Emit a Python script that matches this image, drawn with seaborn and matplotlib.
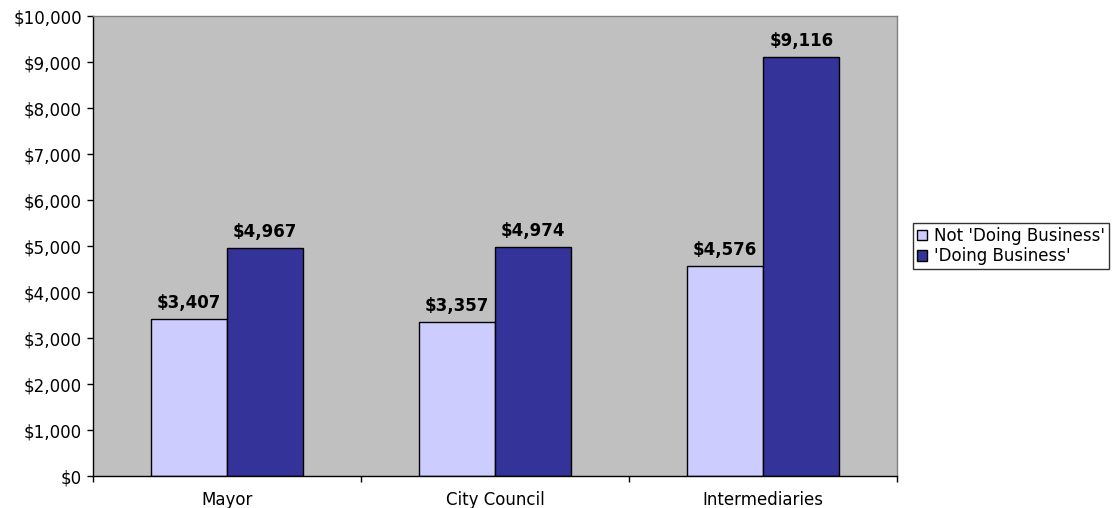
import matplotlib
matplotlib.use("Agg")
import matplotlib.pyplot as plt
import seaborn as sns
import pandas as pd
from matplotlib.patches import Patch
from matplotlib.ticker import FuncFormatter, FixedLocator

categories = ["Mayor", "City Council", "Intermediaries"]
series_names = ["Not 'Doing Business'", "'Doing Business'"]
not_doing_business = [3407, 3357, 4576]
doing_business = [4967, 4974, 9116]
colors = ["#CCCCFF", "#333399"]

df = pd.DataFrame({
    "category": categories * 2,
    "series": [series_names[0]] * 3 + [series_names[1]] * 3,
    "amount": not_doing_business + doing_business,
})

sns.set_style("white")
plt.rcParams["font.family"] = ["DejaVu Sans"]
FS = 12

fig = plt.figure(figsize=(11.13, 5.08), dpi=100)
W, H = 1113, 508
ax = fig.add_axes([93 / W, 1 - 476 / H, (897 - 93) / W, (476 - 16) / H])
ax.set_facecolor("#C0C0C0")

sns.barplot(data=df, x="category", y="amount", hue="series",
            palette=colors, width=0.57, edgecolor="black", linewidth=1.0,
            saturation=1, ax=ax, legend=False)

for container in ax.containers:
    ax.bar_label(container, labels=[f"${v:,.0f}" for v in container.datavalues],
                 padding=5, fontsize=FS, fontweight="bold", color="black")

ax.set_xlim(-0.5, 2.5)
ax.set_ylim(0, 10000)
ax.set_yticks(range(0, 10001, 1000))
ax.yaxis.set_major_formatter(FuncFormatter(lambda v, p: f"${v:,.0f}"))
ax.set_xlabel("")
ax.set_ylabel("")

ax.tick_params(axis="y", which="major", direction="out", length=4.5, width=1,
               color="black", labelsize=FS, pad=3.5, left=True,
               labelcolor="black")
ax.tick_params(axis="x", which="major", length=0, labelsize=FS, pad=11,
               labelcolor="black")
ax.xaxis.set_minor_locator(FixedLocator([-0.5, 0.5, 1.5, 2.5]))
ax.tick_params(axis="x", which="minor", direction="out", length=4.5, width=1,
               color="black", bottom=True)

for side in ["top", "right"]:
    ax.spines[side].set_color("#808080")
    ax.spines[side].set_linewidth(1)
for side in ["left", "bottom"]:
    ax.spines[side].set_color("black")
    ax.spines[side].set_linewidth(1)

handles = [Patch(facecolor=c, edgecolor="black", linewidth=1) for c in colors]
leg = ax.legend(handles, series_names, loc="center left",
                bbox_to_anchor=(913 / W, 1 - 246 / H), bbox_transform=fig.transFigure,
                frameon=True, fancybox=False, fontsize=FS, handlelength=0.6,
                handleheight=0.6, handletextpad=0.4, borderpad=0.25,
                labelspacing=0.15, borderaxespad=0)
leg.get_frame().set_edgecolor("black")
leg.get_frame().set_linewidth(1)
for t in leg.get_texts():
    t.set_color("black")

fig.savefig("out.png", dpi=100, facecolor="white")
